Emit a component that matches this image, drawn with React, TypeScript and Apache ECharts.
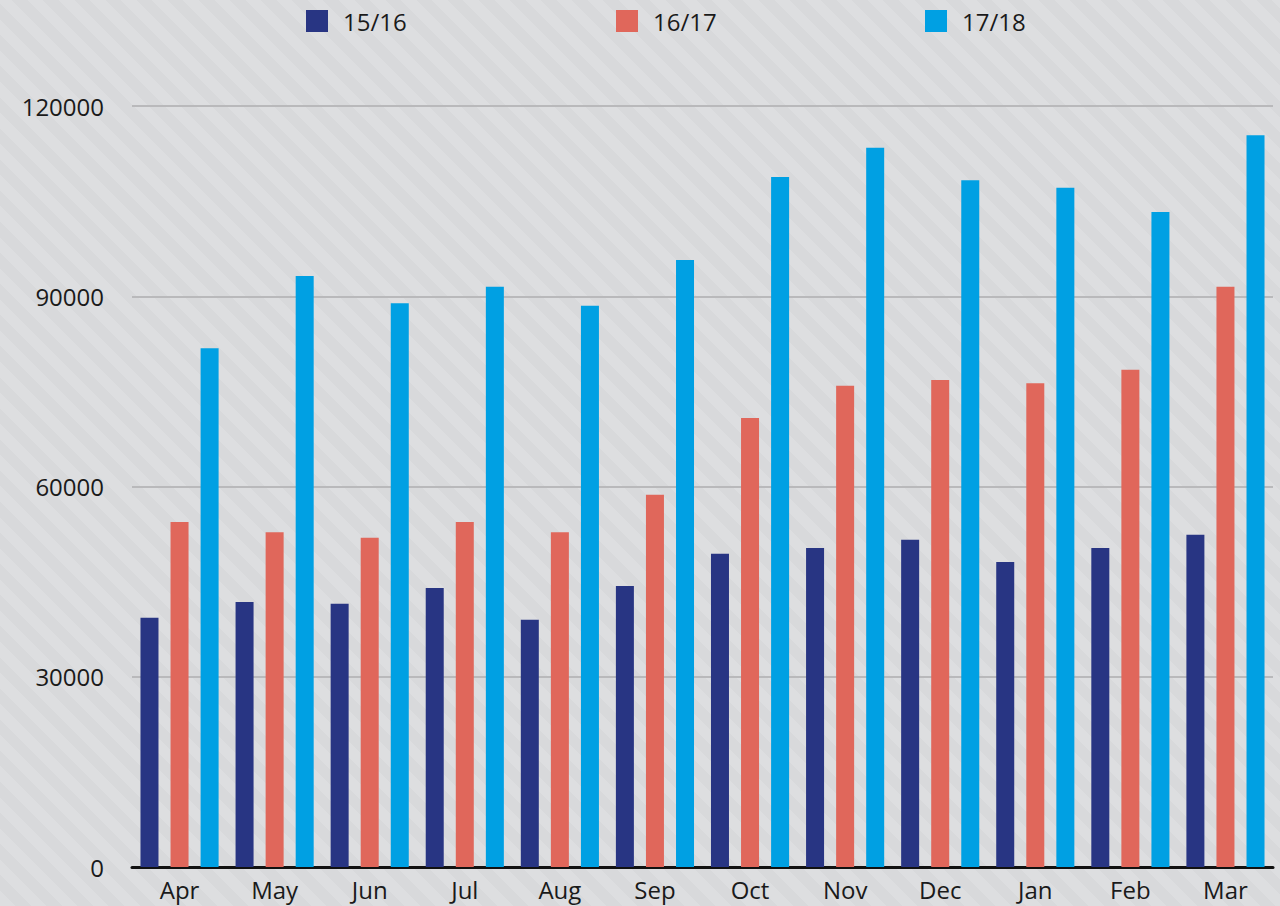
import React, { useEffect, useRef } from "react";
import * as echarts from "echarts";

const months = ["Apr", "May", "Jun", "Jul", "Aug", "Sep", "Oct", "Nov", "Dec", "Jan", "Feb", "Mar"];
const s1516 = [39300, 41800, 41500, 44000, 39000, 44300, 49400, 50300, 51600, 48100, 50300, 52400];
const s1617 = [54400, 52800, 51900, 54400, 52800, 58700, 70800, 75900, 76800, 76300, 78400, 91500];
const s1718 = [81800, 93200, 88900, 91500, 88500, 95700, 108800, 113400, 108300, 107100, 103300, 115400];
const seriesNames = ["15/16", "16/17", "17/18"];
const colors = ["#283583", "#e0675b", "#00a0e3"];

export default function App() {
  const ref = useRef<HTMLDivElement>(null);
  useEffect(() => {
    if (!ref.current) return;
    const chart = echarts.init(ref.current, undefined, { renderer: "svg" });
    const font = "'Open Sans', 'Noto Sans', sans-serif";
    const legendLefts = [306, 616, 925];
    const data = [s1516, s1617, s1718];
    chart.setOption({
      animation: false,
      backgroundColor: "transparent",
      textStyle: { fontFamily: font },
      legend: seriesNames.map((n, i) => ({
        data: [n],
        left: legendLefts[i],
        top: 9,
        padding: 0,
        icon: "rect",
        itemWidth: 22,
        itemHeight: 22,
        textStyle: { fontSize: 24, color: "#1a1a1a", fontFamily: font, padding: [0, 0, 0, 10] },
      })),
      grid: { left: 132, right: 7, top: 106, bottom: 39, containLabel: false },
      xAxis: {
        type: "category",
        data: months,
        axisTick: { show: false },
        axisLine: { lineStyle: { color: "#111", width: 3 } },
        axisLabel: { fontSize: 24, color: "#1a1a1a", margin: 10, fontFamily: font },
      },
      yAxis: {
        type: "value",
        min: 0,
        max: 120000,
        interval: 30000,
        axisLine: { show: false },
        axisTick: { show: false },
        axisLabel: {
          fontSize: 24,
          color: "#1a1a1a",
          margin: 28,
          fontFamily: font,
          formatter: (v: number) => String(v),
        },
        splitLine: { lineStyle: { color: "#b9b9bb", width: 2 } },
      },
      series: seriesNames.map((n, i) => ({
        name: n,
        type: "bar",
        data: data[i],
        barWidth: 18,
        barGap: "67%",
        itemStyle: { color: colors[i] },
      })),
    });
    return () => chart.dispose();
  }, []);
  return (
    <div
      style={{
        position: "absolute",
        left: 0,
        top: 0,
        width: 1280,
        height: 906,
        background:
          "repeating-linear-gradient(45deg, #dddee0 0px, #dddee0 11px, #d8d9db 11px, #d8d9db 22px)",
      }}
    >
      <div ref={ref} style={{ width: 1280, height: 906 }} />
    </div>
  );
}
